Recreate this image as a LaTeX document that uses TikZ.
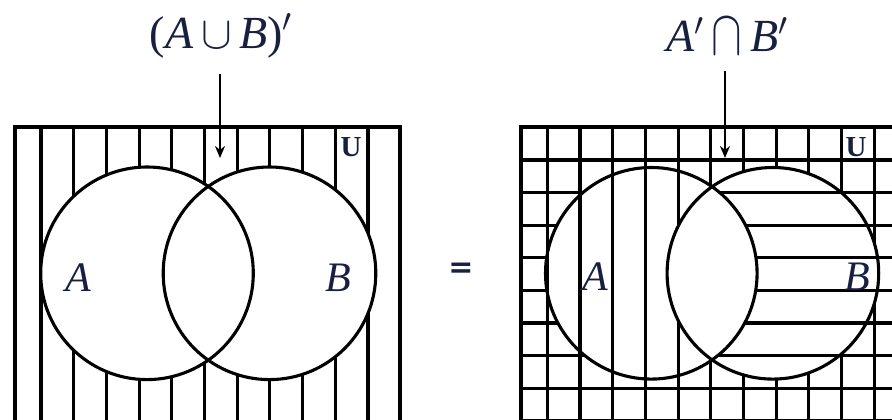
\RequirePackage{fix-cm}
\documentclass[tikz,border=0pt]{standalone}
\usepackage{amsmath,amssymb}
\usepackage{graphicx}
\usepackage{fontspec}
\setmainfont{Liberation Serif}
\newfontfamily\eqfont{DejaVu Sans}
\usepackage{xcolor}
\usepackage{tikz}
\usetikzlibrary{arrows.meta}
\definecolor{labnavy}{rgb}{0.10,0.12,0.25}

\begin{document}
\begin{tikzpicture}[x=1pt,y=1pt,
      ring/.style={draw=black, line width=3.1pt},
      hatch/.style={black, line width=3.1pt},
      lab/.style={text=labnavy, font=\fontsize{42}{46}\selectfont, inner sep=0pt},
      toplab/.style={text=labnavy, font=\fontsize{46}{50}\selectfont, inner sep=0pt},
      unv/.style={text=labnavy, font=\fontsize{29}{32}\selectfont\bfseries, inner sep=0pt},
      ptr/.style={-{Stealth[length=12pt,width=10pt]}, line width=2.2pt, shorten <=16pt}
  ]
    \useasboundingbox (0,0) rectangle (892,420);
    \clip (0,0) rectangle (892,420);
    % left panel: complement of the union
    \coordinate (lA) at (147,146.7);
    \coordinate (lB) at (269.5,146.7);
    \begin{scope}
      \clip (15,-20) rectangle (400,293);
      \foreach \i in {0,...,10} \draw[hatch] ({41+32.7*\i},-20) -- ++(0,313);
    \end{scope}
    \fill[white] (lA) circle[radius=106.3pt] (lB) circle[radius=106.3pt];
    \draw[ring] (15,-20) rectangle (400,293);
    \draw[ring] (lA) circle[radius=106.3pt];
    \draw[ring] (lB) circle[radius=106.3pt];
    \node[lab] (lbA) at (78.5,142.5) {\textit{A}};
    \node[lab] (lbB) at (338.5,142.5) {\textit{B}};
    \node[unv] (lbU) at (351,272.5) {U};
    \node[toplab] (unlab) at (221,384) {(\textit{A}\,$\cup$\,\textit{B})$'$};
    \coordinate (headL) at (220,262);
    \draw[ptr] (unlab.south -| headL) -- (headL);

    \node[text=labnavy, font=\fontsize{30}{32}\eqfont\bfseries, inner sep=0pt] (eq) at (461,150) {=};

    % right panel: intersection of the complements
    \coordinate (rA) at (651.3,146.7);
    \coordinate (rB) at (772.9,146.7);
    \begin{scope}[even odd rule]
      \clip (521,-20) rectangle (920,293) (rA) circle[radius=105.8pt];
      \foreach \j in {0,...,8} \draw[hatch] (521,{260-32.6*\j}) -- ++(400,0);
    \end{scope}
    \begin{scope}[even odd rule]
      \clip (521,-20) rectangle (920,293) (rB) circle[radius=105.8pt];
      \foreach \i in {0,...,10} \draw[hatch] ({547.3+32.7*\i},-20) -- ++(0,313);
    \end{scope}
    \draw[ring] (521,-20) rectangle (920,293);
    \draw[ring] (rA) circle[radius=105.8pt];
    \draw[ring] (rB) circle[radius=105.8pt];
    \node[lab] (rbA) at (595.5,143.5) {\textit{A}};
    \node[lab] (rbB) at (857.5,143.5) {\textit{B}};
    \node[unv] (rbU) at (856,272.5) {U};
    \node[toplab] (inlab) at (727,384) {\textit{A}$'$\,\raisebox{-3pt}{\scalebox{1}[1.4]{$\cap$}}\,\textit{B}$'$};
    \coordinate (headR) at (725,262);
    \draw[ptr] (inlab.south -| headR) -- (headR);
\end{tikzpicture}
\end{document}
